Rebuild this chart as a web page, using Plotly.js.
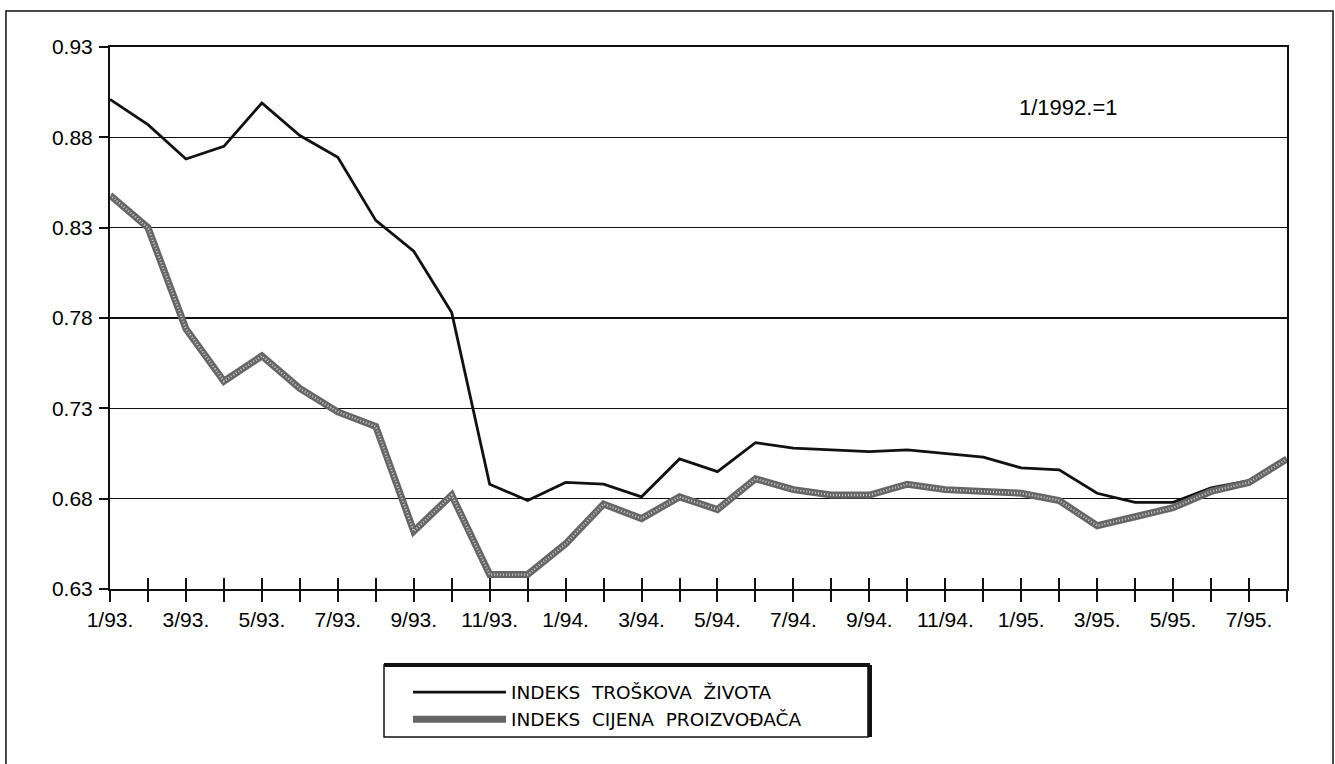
<!DOCTYPE html>
<html>
<head>
<meta charset="utf-8">
<script src="https://cdn.plot.ly/plotly-3.0.1.min.js"></script>
<style>html,body{margin:0;padding:0;background:#fff;}#chart{width:1335px;height:764px;}</style>
</head>
<body>
<div id="chart"></div>
<script>
// Months 1/93. .. 8/95.
const months = ["1/93.","2/93.","3/93.","4/93.","5/93.","6/93.","7/93.","8/93.","9/93.","10/93.","11/93.","12/93.",
  "1/94.","2/94.","3/94.","4/94.","5/94.","6/94.","7/94.","8/94.","9/94.","10/94.","11/94.","12/94.",
  "1/95.","2/95.","3/95.","4/95.","5/95.","6/95.","7/95.","8/95."];
const tickLabels = ["1/93.","3/93.","5/93.","7/93.","9/93.","11/93.","1/94.","3/94.","5/94.","7/94.","9/94.","11/94.","1/95.","3/95.","5/95.","7/95."];

// INDEKS TROŠKOVA ŽIVOTA (cost of living index)
const trosakZivota = [0.901,0.887,0.868,0.875,0.899,0.881,0.869,0.834,0.817,0.783,0.688,0.679,
  0.689,0.688,0.681,0.702,0.695,0.711,0.708,0.707,0.706,0.707,0.705,0.703,
  0.697,0.696,0.683,0.678,0.678,0.686,0.690,0.702];
// INDEKS CIJENA PROIZVOĐAČA (producer price index)
const cijeneProizvodaca = [0.848,0.830,0.774,0.745,0.759,0.741,0.728,0.720,0.662,0.682,0.638,0.638,
  0.655,0.677,0.669,0.681,0.674,0.691,0.685,0.682,0.682,0.688,0.685,0.684,
  0.683,0.679,0.665,0.670,0.675,0.684,0.689,0.702];

const yTicks = [0.63,0.68,0.73,0.78,0.83,0.88,0.93];
const seriesNames = ["INDEKS\u00a0\u00a0TROŠKOVA\u00a0\u00a0ŽIVOTA", "INDEKS\u00a0\u00a0CIJENA\u00a0\u00a0PROIZVOĐAČA"];
const note = "1/1992.=1";

const axFont = {family: "Liberation Sans, Arial, sans-serif", size: 21, color: "#000"};
const legFont = {family: "DejaVu Sans, Liberation Sans Narrow, sans-serif", size: 18.5, color: "#000"};

const traces = [
  {x: months, y: trosakZivota, type: "scatter", mode: "lines", name: seriesNames[0],
   line: {color: "#111", width: 2.8}, hoverinfo: "x+y"},
  {x: months, y: cijeneProizvodaca, type: "scatter", mode: "lines", name: seriesNames[1],
   line: {color: "#666", width: 7}, hoverinfo: "x+y"},
  {x: months, y: cijeneProizvodaca, type: "scatter", mode: "lines", showlegend: false,
   line: {color: "rgba(215,215,215,0.9)", width: 2.2, dash: "1px,2px"}, hoverinfo: "skip"},
  {x: [], y: [], xaxis: "x2", yaxis: "y", type: "scatter", mode: "lines", showlegend: false, hoverinfo: "skip"}
];

const layout = {
  width: 1335, height: 764,
  margin: {l: 110, r: 48, t: 47, b: 175},
  paper_bgcolor: "#fff", plot_bgcolor: "#fff",
  showlegend: true,
  xaxis: {
    type: "category", range: [0, months.length - 1],
    tickmode: "array", tickvals: months,
    ticktext: months.map(m => tickLabels.includes(m) ? m : ""),
    ticks: "outside", ticklen: 11, tickwidth: 2, tickcolor: "#111",
    showline: true, linecolor: "#111", linewidth: 2, mirror: true,
    showgrid: false, zeroline: false, tickfont: axFont, tickangle: 0
  },
  xaxis2: {
    overlaying: "x", anchor: "y", side: "bottom",
    range: [0, months.length - 1], dtick: 1, tick0: 0,
    ticks: "inside", ticklen: 11, tickwidth: 2, tickcolor: "#111",
    showticklabels: false, showgrid: false, zeroline: false, showline: false
  },
  yaxis: {
    range: [yTicks[0], yTicks[yTicks.length - 1]],
    tickmode: "array", tickvals: yTicks, tickformat: ".2f",
    ticks: "outside", ticklen: 9, tickwidth: 2, tickcolor: "#111",
    showline: true, linecolor: "#111", linewidth: 2, mirror: true,
    showgrid: true, gridcolor: "#111", gridwidth: 1.3, zeroline: false,
    tickfont: axFont, ticklabelstandoff: 2
  },
  legend: {
    x: 0.2532, xanchor: "left", y: -0.156, yanchor: "top",
    bgcolor: "rgba(0,0,0,0)", borderwidth: 0, font: legFont,
    itemwidth: 93, tracegroupgap: 0
  },
  annotations: [
    {text: note, xref: "paper", yref: "paper", x: 0.814, y: 0.8875, xanchor: "center", yanchor: "middle",
     showarrow: false, font: {family: "Liberation Sans, Arial, sans-serif", size: 22, color: "#000"}}
  ],
  shapes: [
    // outer frame
    {type: "rect", xref: "paper", yref: "paper", x0: -0.0884, x1: 1.0391, y0: -0.334, y1: 1.0664,
     line: {color: "#111", width: 1.5}},
    // legend box
    {type: "rect", xref: "paper", yref: "paper", x0: 0.2328, x1: 0.644, y0: -0.2731, y1: -0.1402,
     line: {color: "#111", width: 1.5}},
    {type: "line", xref: "paper", yref: "paper", x0: 0.2328, x1: 0.6457, y0: -0.1402, y1: -0.1402,
     line: {color: "#111", width: 4}},
    {type: "line", xref: "paper", yref: "paper", x0: 0.6457, x1: 0.6457, y0: -0.2731, y1: -0.1402,
     line: {color: "#111", width: 4}}
  ]
};

Plotly.newPlot("chart", traces, layout, {staticPlot: true, displayModeBar: false});
</script>
</body>
</html>
